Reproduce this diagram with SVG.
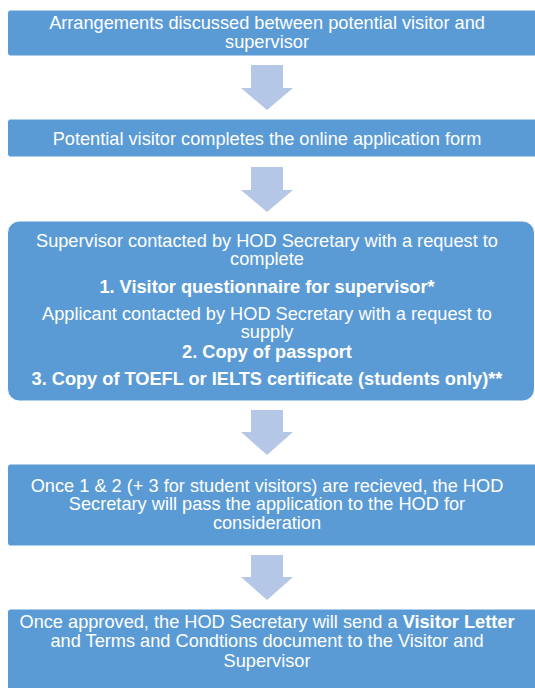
<svg xmlns="http://www.w3.org/2000/svg" width="535" height="688" viewBox="0 0 535 688">
<style>
.box{fill:#5B9BD5;stroke:#ffffff;stroke-width:1}
.arr{fill:#B4C7E7}
text{font-family:"Liberation Sans",Arial,sans-serif;font-size:18.2px;fill:#ffffff;text-anchor:middle}
.b{font-weight:bold}
</style>
<rect width="535" height="688" fill="#ffffff"/>
<g id="connectors">
<polygon class="arr" points="251,65 283,65 283,88 293,88 267,110 241,88 251,88"/>
<polygon class="arr" points="251,167 283,167 283,190 293,190 267,212 241,190 251,190"/>
<polygon class="arr" points="251,410 283,410 283,432 293,432 267,455 241,432 251,432"/>
<polygon class="arr" points="251,555 283,555 283,577 293,577 267,600 241,577 251,577"/>
</g>
<g id="n1">
<rect class="box" x="7.5" y="10" width="540" height="46" rx="3"/>
<text x="267" y="29">Arrangements discussed between potential visitor and</text>
<text x="267" y="48">supervisor</text>
</g>
<g id="n2">
<rect class="box" x="7.5" y="119" width="540" height="38" rx="3"/>
<text x="267" y="145">Potential visitor completes the online application form</text>
</g>
<g id="n3">
<rect class="box" x="7.5" y="221" width="527" height="180" rx="12"/>
<text x="267" y="247">Supervisor contacted by HOD Secretary with a request to</text>
<text x="267" y="265">complete</text>
<text class="b" x="267" y="293">1. Visitor questionnaire for supervisor*</text>
<text x="267" y="320">Applicant contacted by HOD Secretary with a request to</text>
<text x="267" y="338">supply</text>
<text class="b" x="267" y="358">2. Copy of passport</text>
<text class="b" x="267" y="385">3. Copy of TOEFL or IELTS certificate (students only)**</text>
</g>
<g id="n4">
<rect class="box" x="7.5" y="464" width="540" height="82" rx="3"/>
<text x="267" y="492">Once 1 &amp; 2 (+ 3 for student visitors) are recieved, the HOD</text>
<text x="267" y="510">Secretary will pass the application to the HOD for</text>
<text x="267" y="529">consideration</text>
</g>
<g id="n5">
<rect class="box" x="7.5" y="609" width="540" height="100" rx="3"/>
<text x="267" y="628">Once approved, the HOD Secretary will send a <tspan class="b">Visitor Letter</tspan></text>
<text x="267" y="647">and Terms and Condtions document to the Visitor and</text>
<text x="267" y="667">Supervisor</text>
</g>
</svg>
